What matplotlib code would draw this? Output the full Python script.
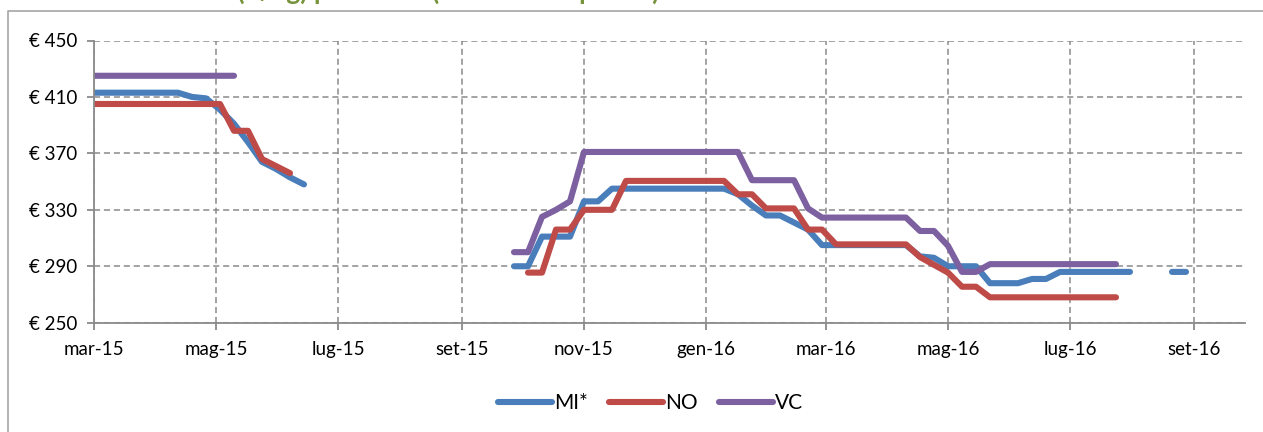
import numpy as np
import pandas as pd
import matplotlib
matplotlib.use("Agg")
from matplotlib import pyplot as plt
from matplotlib.lines import Line2D
import matplotlib.dates as mdates

nan = np.nan

# weekly quotations, starting first week of March 2015
weeks = pd.date_range("2015-03-01", periods=79, freq="7D")

mi = ([413] * 7 + [410, 409, 401, 391, 378, 364, 359, 353, 348]
      + [nan] * 14
      + [290, 290, 311, 311, 311, 336, 336] + [345] * 9
      + [341, 333, 326, 326, 321, 316] + [305] * 7
      + [297, 296, 290, 290, 290, 278, 278, 278, 281, 281] + [286] * 6
      + [nan, nan, 286, 286])

no = ([405] * 10 + [386, 386, 366, 361, 356]
      + [nan] * 16
      + [285.5, 285.5, 316, 316, 330, 330, 330] + [350.5] * 8
      + [341, 341, 331, 331, 331, 316, 316] + [305.5] * 6
      + [296.5, 291, 285.5, 275.5, 275.5] + [268] * 10
      + [nan] * 5)

vc = ([425] * 11
      + [nan] * 19
      + [300, 300, 325, 330, 336] + [371] * 12
      + [351] * 4 + [331] + [324.5] * 7
      + [315, 315, 304.5, 286, 286] + [291.5] * 10
      + [nan] * 5)

series = [("MI*", mi, "#4a7ebb"), ("NO", no, "#be4b48"), ("VC", vc, "#7d60a0")]

tick_dates = pd.to_datetime(["2015-03-01", "2015-05-01", "2015-07-01", "2015-09-01",
                             "2015-11-01", "2016-01-01", "2016-03-01", "2016-05-01",
                             "2016-07-01", "2016-09-01"])
tick_labels = ["mar-15", "mag-15", "lug-15", "set-15", "nov-15",
               "gen-16", "mar-16", "mag-16", "lug-16", "set-16"]
y_ticks = [250, 290, 330, 370, 410, 450]

title = "Prezzi (€/kg) peso vivo (media delle piazze)"

plt.rcParams["font.family"] = ["Lato", "DejaVu Sans"]

W, H = 1263, 432
fig = plt.figure(figsize=(W / 100, H / 100), dpi=100)
ax = fig.add_axes([94 / W, 1 - 322.7 / H, (1245 - 94) / W, (322.7 - 40.5) / H])

for label, vals, color in series:
    ax.plot(weeks, vals, color=color, lw=4.4, label=label,
            solid_capstyle="round", solid_joinstyle="round")

x0 = mdates.date2num(pd.Timestamp("2015-03-01"))
ax.set_xlim(x0, x0 + 575.5)
ax.set_ylim(250, 450)
ax.set_xticks(tick_dates)
ax.set_xticklabels(tick_labels)
ax.set_yticks(y_ticks)
ax.set_yticklabels([f"€ {v}" for v in y_ticks])

grid_kw = dict(color="#8a8a8a", lw=1.1, ls=(0, (4, 2.5)))
ax.grid(True, **grid_kw)
ax.set_axisbelow(True)
for s in ["top", "right"]:
    ax.spines[s].set_visible(False)
for s in ["left", "bottom"]:
    ax.spines[s].set_color("#8a8a8a")
    ax.spines[s].set_linewidth(1.3)
ax.tick_params(axis="both", colors="#8a8a8a", length=5, width=1.3,
               labelcolor="black", labelsize=13.5)
ax.tick_params(axis="x", pad=8)
ax.tick_params(axis="y", pad=7)

leg = fig.legend(loc="center", bbox_to_anchor=(0.515, 1 - 403 / H), ncol=3,
                 frameon=False, fontsize=15, handlelength=2.6, handletextpad=0.1,
                 columnspacing=1.0)
for h in leg.get_lines():
    h.set_linewidth(4.4)

# outer chart border, partly cut by the crop
fig.add_artist(Line2D([8 / W, 8 / W, 1.0], [0.0, 1 - 11 / H, 1 - 11 / H],
                      transform=fig.transFigure, color="#a6a6a6", lw=1.2))

# chart title, cropped at the top edge as in the source image
fig.text(660 / W, 1.0, title, ha="right", va="baseline",
         fontsize=19, fontweight="bold", color="#77933c")

fig.savefig("out.png", dpi=100)
